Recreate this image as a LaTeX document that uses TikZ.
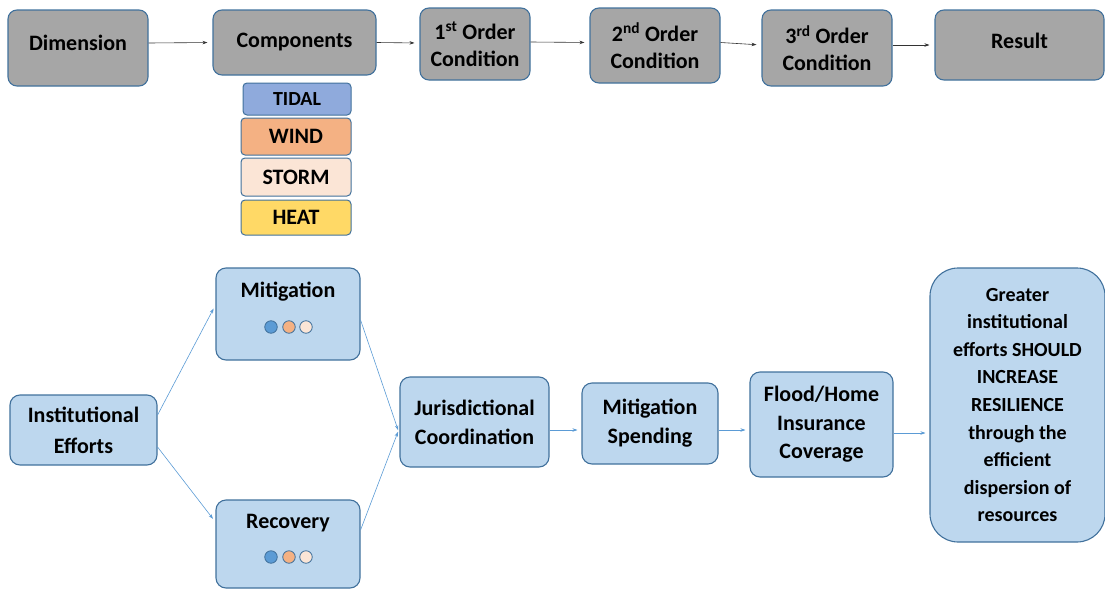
\documentclass[tikz,border=0pt]{standalone}
\usepackage{fontspec}
\setmainfont{Carlito}
\usetikzlibrary{arrows.meta}
\definecolor{grayfill}{HTML}{A6A6A6}
\definecolor{edgeblue}{HTML}{41719C}
\definecolor{lightblue}{HTML}{BDD7EE}
\definecolor{tidalc}{HTML}{8FAADC}
\definecolor{windc}{HTML}{F4B183}
\definecolor{stormc}{HTML}{FBE5D6}
\definecolor{heatc}{HTML}{FFD966}
\definecolor{dotblue}{HTML}{5B9BD5}
\definecolor{arrowblue}{HTML}{5B9BD5}
\tikzset{
  graybox/.style={draw=edgeblue, line width=1.1pt, fill=grayfill, rounded corners=9pt,
    align=center, font=\fontsize{22}{27}\selectfont\bfseries, inner sep=0pt},
  compbox/.style={draw=edgeblue, line width=1pt, rounded corners=4pt,
    align=center, font=\fontsize{22}{24}\selectfont\bfseries, inner sep=0pt,
    minimum width=110pt},
  bluebox/.style={draw=edgeblue, line width=1.1pt, fill=lightblue, rounded corners=10pt,
    align=center, font=\fontsize{22}{29}\selectfont\bfseries, inner sep=0pt},
  boxlabel/.style={font=\fontsize{22}{26}\selectfont\bfseries, inner sep=0pt},
  dot/.style={circle, draw=edgeblue, line width=0.8pt, minimum size=12.5pt, inner sep=0pt},
  toparrow/.style={-{Stealth[length=5pt,width=3.5pt]}, line width=0.6pt, black!80,
    shorten >=5pt},
  botarrow/.style={-{Stealth[length=5pt,width=3.5pt]}, line width=0.6pt, arrowblue,
    shorten >=4pt},
}
\begin{document}
\begin{tikzpicture}[x=1pt, y=-1pt]
\useasboundingbox (0,0) rectangle (1105,589);

% top row: the chain of conditions
\node[graybox, minimum width=140pt, minimum height=76pt] (dim) at (78,48) {};
\node[boxlabel] (dimlab) at (78,43) {Dimension};
\node[graybox, minimum width=163pt, minimum height=65pt] (comp) at (294.5,42.5) {Components};
\node[graybox, minimum width=110pt, minimum height=72pt] (o1) at (475,44) {1\textsuperscript{st} Order\\Condition};
\node[graybox, minimum width=130pt, minimum height=75pt] (o2) at (655,45.5) {2\textsuperscript{nd} Order\\Condition};
\node[graybox, minimum width=130pt, minimum height=76pt] (o3) at (827,48) {3\textsuperscript{rd} Order\\Condition};
\node[graybox, minimum width=169pt, minimum height=70pt] (res) at (1019.5,45) {};
\node[boxlabel] (reslab) at (1019.5,41) {Result};

% hazard components under the Components box
\node[compbox, fill=tidalc, minimum width=108pt, minimum height=32pt, font=\fontsize{20}{22}\selectfont\bfseries] (tidal) at (297,99) {TIDAL};
\node[compbox, fill=windc, minimum height=37pt] (wind) at (296,136.5) {WIND};
\node[compbox, fill=stormc, minimum height=38pt] (storm) at (296,177) {STORM};
\node[compbox, fill=heatc, minimum height=35pt] (heat) at (296,217.5) {HEAT};

\draw[toparrow] ([yshift=5pt]dim.east) -- (comp.west);
\draw[toparrow] (comp.east) -- ([yshift=1pt]o1.west);
\draw[toparrow] ([yshift=2pt]o1.east) -- ([yshift=3pt]o2.west);
\draw[toparrow] ([yshift=3pt]o2.east) -- ([yshift=3pt]o3.west);
\draw[toparrow] ([yshift=3pt]o3.east) -- (res.west);

% bottom row: institutional efforts pathway
\node[bluebox, minimum width=147pt, minimum height=70pt, font=\fontsize{22}{31}\selectfont\bfseries] (inst) at (83.5,430) {Institutional\\Efforts};
\node[bluebox, minimum width=144pt, minimum height=92pt] (mit) at (288,314) {};
\node[boxlabel] (mitlab) at (288,292) {Mitigation};
\node[bluebox, minimum width=144pt, minimum height=88pt] (rec) at (288,544) {};
\node[boxlabel] (reclab) at (288,523) {Recovery};
\node[dot, fill=dotblue] (md1) at (271,327) {};
\node[dot, fill=windc] (md2) at (289,327) {};
\node[dot, fill=stormc] (md3) at (306,327) {};
\node[dot, fill=dotblue] (rd1) at (271,557) {};
\node[dot, fill=windc] (rd2) at (289,557) {};
\node[dot, fill=stormc] (rd3) at (306,557) {};
\node[bluebox, minimum width=149pt, minimum height=90pt] (jur) at (474.5,422) {Jurisdictional\\Coordination};
\node[bluebox, minimum width=136pt, minimum height=81pt] (ms) at (650,423.5) {Mitigation\\Spending};
\node[bluebox, minimum width=143pt, minimum height=105pt, font=\fontsize{22}{28.5}\selectfont\bfseries] (fh) at (821.5,424.5) {Flood/Home\\Insurance\\Coverage};
\node[bluebox, rounded corners=28pt, minimum width=175pt, minimum height=274pt,
  font=\fontsize{20}{27.6}\selectfont\bfseries] (gr) at (1017.5,405)
  {Greater\\institutional\\efforts SHOULD\\INCREASE\\RESILIENCE\\through the\\efficient\\dispersion of\\resources};

\draw[botarrow] ([yshift=15pt]inst.east) -- ([yshift=9pt]mit.west);
\draw[botarrow] ([yshift=-17pt]inst.east) -- ([yshift=22pt]rec.west);
\draw[botarrow] ([yshift=-6pt]mit.east) -- ([yshift=-12pt]jur.west);
\draw[botarrow] ([yshift=14pt]rec.east) -- ([yshift=-6pt]jur.west);
\draw[botarrow] ([yshift=-8pt]jur.east) -- ([yshift=-6.5pt]ms.west);
\draw[botarrow] ([yshift=-6.5pt]ms.east) -- ([yshift=-5.5pt]fh.west);
\draw[botarrow] ([yshift=-8.5pt]fh.east) -- ([yshift=-28pt]gr.west);
\end{tikzpicture}
\end{document}
